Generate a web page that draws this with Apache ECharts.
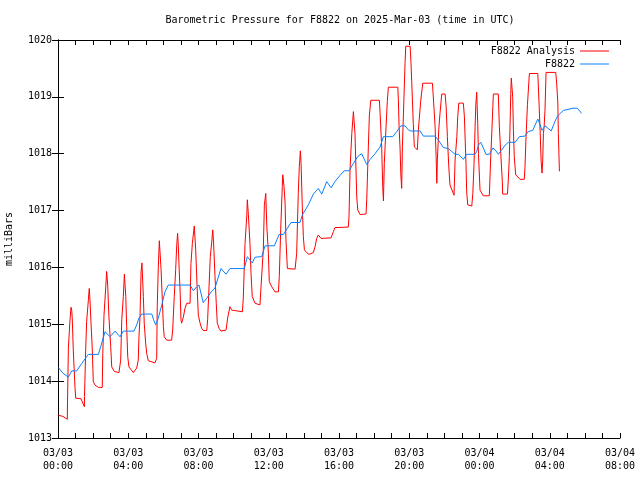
<!DOCTYPE html>
<html>
<head>
<meta charset="utf-8">
<script src="https://cdn.jsdelivr.net/npm/echarts@6/dist/echarts.min.js"></script>
<style>html,body{margin:0;padding:0;background:#fff}#c{width:640px;height:480px}</style>
</head>
<body>
<div id="c"></div>
<script>
// hours since 2025-03-03 00:00 UTC
const redTimes = [0.02,0.28,0.53,0.54,0.59,0.68,0.74,0.78,0.81,0.87,0.97,1.01,1.31,1.50,1.51,1.58,1.63,1.73,1.78,1.82,1.88,1.95,2.01,2.11,2.30,2.52,2.55,2.62,2.72,2.77,2.83,2.90,3.00,3.06,3.21,3.47,3.57,3.63,3.72,3.78,3.86,3.91,3.97,4.04,4.29,4.48,4.57,4.61,4.67,4.73,4.78,4.86,4.91,4.99,5.05,5.14,5.52,5.62,5.65,5.71,5.77,5.87,5.94,6.00,6.05,6.19,6.47,6.53,6.62,6.70,6.76,6.81,6.85,6.90,6.96,7.00,7.04,7.14,7.23,7.33,7.52,7.57,7.65,7.76,7.84,7.92,7.99,8.09,8.18,8.27,8.47,8.52,8.60,8.67,8.75,8.81,8.86,8.94,9.01,9.07,9.17,9.28,9.57,9.66,9.79,9.89,9.98,10.50,10.55,10.65,10.75,10.78,10.84,10.93,10.99,11.06,11.22,11.32,11.50,11.56,11.69,11.75,11.83,11.89,11.98,12.03,12.17,12.36,12.55,12.60,12.68,12.77,12.80,12.87,12.93,12.98,13.06,13.50,13.59,13.68,13.74,13.80,13.84,13.91,13.97,14.03,14.16,14.29,14.54,14.64,14.73,14.82,14.98,15.55,15.68,15.77,16.53,16.57,16.63,16.73,16.82,16.91,17.01,17.07,17.20,17.54,17.58,17.67,17.73,17.81,18.30,18.34,18.43,18.49,18.53,18.58,18.68,18.75,18.81,19.35,19.38,19.42,19.48,19.52,19.57,19.61,19.70,19.76,19.80,20.05,20.10,20.14,20.23,20.29,20.46,20.52,20.65,20.77,21.32,21.37,21.47,21.53,21.57,21.60,21.68,21.75,21.85,22.04,22.10,22.17,22.25,22.32,22.55,22.61,22.71,22.76,22.82,23.08,23.14,23.23,23.27,23.33,23.56,23.62,23.69,23.75,23.79,23.84,23.90,23.94,24.03,24.22,24.56,24.64,24.70,24.76,24.79,25.07,25.13,25.21,25.30,25.32,25.59,25.64,25.70,25.78,25.81,25.89,25.93,25.98,26.06,26.31,26.55,26.59,26.65,26.73,26.84,27.32,27.39,27.45,27.51,27.56,27.60,27.64,27.68,27.73,27.79,28.34,28.40,28.46,28.49,28.53,28.55];
const redValues = [1013.40,1013.38,1013.33,1013.58,1014.58,1015.06,1015.30,1015.25,1015.12,1014.55,1013.87,1013.70,1013.69,1013.55,1013.73,1014.58,1015.05,1015.43,1015.63,1015.43,1015.02,1014.58,1013.99,1013.93,1013.89,1013.89,1014.49,1015.16,1015.66,1015.93,1015.69,1015.13,1014.61,1014.25,1014.17,1014.15,1014.37,1015.08,1015.49,1015.88,1015.49,1014.96,1014.43,1014.25,1014.15,1014.23,1014.37,1014.78,1015.13,1015.92,1016.08,1015.49,1015.02,1014.67,1014.49,1014.36,1014.32,1014.40,1015.30,1016.00,1016.47,1015.96,1015.43,1014.96,1014.78,1014.72,1014.72,1014.90,1015.49,1015.96,1016.39,1016.60,1016.39,1015.96,1015.52,1015.08,1015.02,1015.13,1015.28,1015.37,1015.37,1016.07,1016.42,1016.73,1016.31,1015.66,1015.16,1015.02,1014.93,1014.89,1014.89,1015.08,1015.66,1016.19,1016.43,1016.66,1016.43,1015.84,1015.37,1015.02,1014.93,1014.88,1014.90,1015.11,1015.31,1015.25,1015.22,1015.22,1015.46,1016.42,1016.92,1017.19,1016.93,1016.42,1015.90,1015.49,1015.37,1015.34,1015.34,1015.66,1016.31,1017.10,1017.30,1016.72,1016.25,1015.75,1015.66,1015.57,1015.57,1015.84,1016.66,1017.42,1017.63,1017.42,1017.13,1016.48,1015.98,1015.97,1016.25,1017.30,1017.77,1018.05,1017.83,1017.07,1016.54,1016.31,1016.26,1016.23,1016.26,1016.37,1016.51,1016.57,1016.51,1016.52,1016.63,1016.70,1016.71,1016.89,1017.74,1018.36,1018.74,1018.36,1017.24,1017.01,1016.93,1016.94,1017.19,1018.12,1018.68,1018.94,1018.94,1018.71,1018.12,1017.42,1017.17,1017.83,1018.48,1018.92,1019.17,1019.17,1018.94,1018.48,1018.07,1017.63,1017.39,1018.12,1019.00,1019.59,1019.89,1019.89,1019.59,1019.27,1018.53,1018.12,1018.07,1018.42,1018.92,1019.24,1019.24,1019.00,1018.48,1017.95,1017.48,1017.89,1018.42,1018.71,1019.05,1019.05,1018.83,1018.30,1017.77,1017.45,1017.27,1017.89,1018.30,1018.65,1018.89,1018.89,1018.65,1017.83,1017.33,1017.10,1017.08,1017.30,1017.83,1018.48,1018.86,1019.08,1018.53,1018.00,1017.36,1017.26,1017.26,1017.95,1018.36,1018.83,1019.05,1019.05,1018.48,1018.00,1017.51,1017.29,1017.29,1017.54,1017.95,1019.06,1019.33,1019.00,1018.42,1017.95,1017.63,1017.55,1017.55,1017.77,1018.30,1018.86,1019.41,1019.41,1018.89,1018.42,1017.86,1017.66,1017.89,1018.36,1018.48,1018.77,1019.43,1019.43,1019.21,1018.89,1018.36,1017.92,1017.69];
const blueTimes = [0.02,0.28,0.59,0.78,1.06,1.35,1.63,1.73,2.30,2.49,2.68,2.96,3.25,3.53,3.72,4.33,4.48,4.61,4.77,5.34,5.43,5.56,5.71,5.91,6.09,6.28,7.52,7.71,7.90,8.03,8.27,8.47,8.75,8.94,9.11,9.28,9.57,9.79,10.61,10.78,11.06,11.22,11.60,11.79,12.32,12.59,12.83,13.27,13.78,13.91,14.25,14.54,14.82,15.02,15.30,15.55,15.77,16.06,16.30,16.57,16.82,17.07,17.29,17.58,17.77,18.05,18.34,18.53,19.06,19.29,19.52,19.76,19.95,20.09,20.62,20.80,21.47,21.66,21.94,22.23,22.42,22.61,22.80,23.08,23.27,23.75,23.84,23.94,24.07,24.22,24.37,24.56,24.76,24.89,25.07,25.27,25.46,25.64,26.03,26.27,26.59,26.78,27.03,27.16,27.32,27.45,27.56,27.73,28.08,28.30,28.44,28.77,29.04,29.33,29.57,29.82];
const blueValues = [1014.24,1014.14,1014.07,1014.18,1014.18,1014.31,1014.43,1014.47,1014.47,1014.67,1014.87,1014.78,1014.88,1014.78,1014.88,1014.88,1014.99,1015.11,1015.18,1015.18,1015.09,1014.99,1015.11,1015.34,1015.57,1015.69,1015.69,1015.59,1015.66,1015.69,1015.38,1015.46,1015.58,1015.64,1015.81,1015.98,1015.88,1015.98,1015.98,1016.19,1016.08,1016.18,1016.19,1016.38,1016.38,1016.58,1016.58,1016.79,1016.79,1016.92,1017.10,1017.29,1017.39,1017.29,1017.51,1017.40,1017.51,1017.62,1017.70,1017.70,1017.83,1017.95,1018.00,1017.81,1017.90,1018.00,1018.12,1018.30,1018.30,1018.39,1018.49,1018.49,1018.42,1018.40,1018.40,1018.31,1018.31,1018.24,1018.11,1018.09,1018.04,1017.99,1017.99,1017.90,1017.99,1017.99,1018.04,1018.15,1018.20,1018.10,1017.99,1017.99,1018.10,1018.07,1017.99,1018.07,1018.15,1018.20,1018.20,1018.30,1018.31,1018.39,1018.41,1018.50,1018.61,1018.51,1018.41,1018.49,1018.40,1018.57,1018.66,1018.76,1018.78,1018.80,1018.80,1018.71];
const seriesNames = ['F8822 Analysis', 'F8822'];
const dayLabels = ['03/03', '03/04'];
const titleText = 'Barometric Pressure for F8822 on 2025-Mar-03 (time in UTC)';
const yName = 'milliBars';

const FONT = 'DejaVu Sans Mono';
const chart = echarts.init(document.getElementById('c'), null, {renderer: 'canvas'});
function xLabel(v) {
  if (Math.round(v) % 4 !== 0) return '';
  const d = Math.floor(v / 24);
  const h = v % 24;
  return dayLabels[d] + '\n' + String(h).padStart(2, '0') + ':00';
}
const axisLineStyle = {show: true, lineStyle: {color: '#000', width: 1}};
const option = {
  animation: false,
  backgroundColor: '#fff',
  textStyle: {fontFamily: FONT},
  title: {
    text: titleText, left: 335, top: 10, textAlign: 'center',
    textStyle: {fontFamily: FONT, fontSize: 10, fontWeight: 'normal', color: '#000'}
  },
  legend: [
    {data: [seriesNames[0]], right: 26, top: 41, orient: 'vertical', align: 'right',
     icon: 'rect', itemWidth: 29, itemHeight: 1,
     textStyle: {fontFamily: FONT, fontSize: 10, color: '#000'}},
    {data: [seriesNames[1]], right: 26, top: 54, orient: 'vertical', align: 'right',
     icon: 'rect', itemWidth: 29, itemHeight: 1,
     textStyle: {fontFamily: FONT, fontSize: 10, color: '#000'}}
  ],
  grid: {left: 58, right: 20, top: 40, bottom: 42, containLabel: false, outerBoundsMode: 'none'},
  xAxis: [
    {type: 'value', min: 0, max: 32, interval: 1, position: 'bottom',
     axisLine: axisLineStyle, splitLine: {show: false},
     axisTick: {show: true, inside: true, length: 5, lineStyle: {color: '#000'}},
     axisLabel: {formatter: xLabel, color: '#000', fontFamily: FONT, fontSize: 10, lineHeight: 13, margin: 9, showMinLabel: true, showMaxLabel: true}},
    {type: 'value', min: 0, max: 32, interval: 1, position: 'top',
     axisLine: axisLineStyle, splitLine: {show: false},
     axisTick: {show: true, inside: true, length: 5, lineStyle: {color: '#000'}},
     axisLabel: {show: false}}
  ],
  yAxis: [
    {type: 'value', min: 1013, max: 1020, interval: 1, position: 'left',
     name: yName, nameLocation: 'middle', nameGap: 44, nameRotate: 90,
     nameTextStyle: {fontFamily: FONT, fontSize: 10, color: '#000'},
     axisLine: axisLineStyle, splitLine: {show: false},
     axisTick: {show: true, inside: true, length: 6, lineStyle: {color: '#000'}},
     axisLabel: {color: '#000', fontFamily: FONT, fontSize: 10, margin: 6, formatter: v => String(v)}},
    {type: 'value', min: 1013, max: 1020, interval: 1, position: 'right',
     axisLine: axisLineStyle, splitLine: {show: false},
     axisTick: {show: true, inside: true, length: 6, lineStyle: {color: '#000'}},
     axisLabel: {show: false}}
  ],
  series: [
    {name: seriesNames[0], type: 'line', xAxisIndex: 0, yAxisIndex: 0,
     data: redTimes.map((t, i) => [t, redValues[i]]),
     showSymbol: false, symbol: 'none', color: '#ff0000',
     lineStyle: {color: '#ff0000', width: 1}},
    {name: seriesNames[1], type: 'line', xAxisIndex: 0, yAxisIndex: 0,
     data: blueTimes.map((t, i) => [t, blueValues[i]]),
     showSymbol: false, symbol: 'none', color: '#0a80ff',
     lineStyle: {color: '#0a80ff', width: 1}}
  ]
};
chart.setOption(option);
</script>
</body>
</html>
